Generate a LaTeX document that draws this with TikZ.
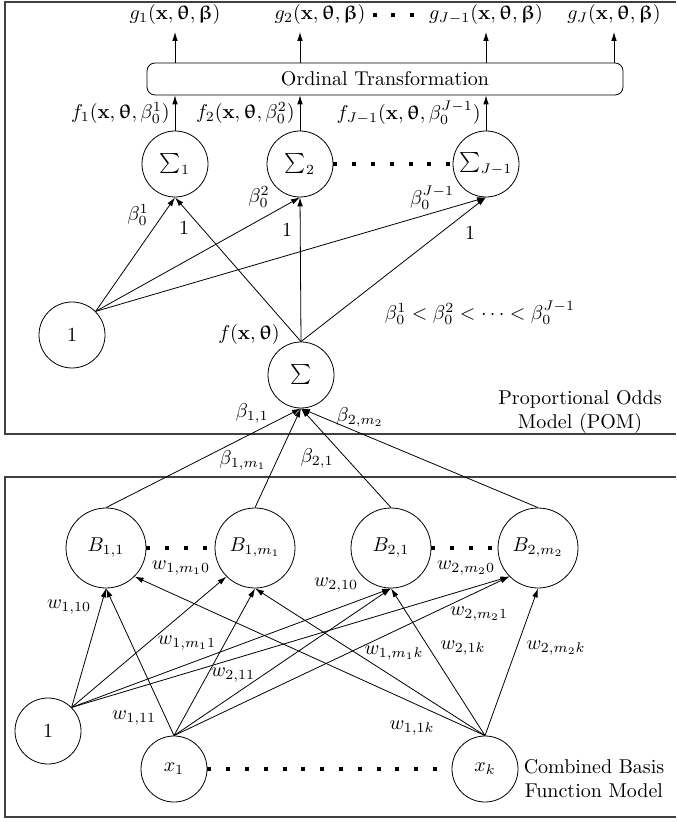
\documentclass[tikz,border=0pt]{standalone}
\usepackage{amsmath,amssymb,bm}
\usepackage{upgreek}
\usepackage{tikz}
\usetikzlibrary{arrows.meta,positioning,calc}

\tikzset{
	neuron/.style={draw, circle, minimum size=33pt, inner sep=1pt},
	basis/.style={draw, circle, minimum size=40pt, inner sep=1pt},
	conn/.style={-{Latex[length=4.5pt,width=2.8pt]}},
	bigdots/.style={line width=2pt, dash pattern=on 2pt off 7.4pt},
	frame/.style={black!75, line width=0.7pt},
	flabel/.style={left, inner ysep=0pt, inner xsep=2.5pt}
}
\newcommand{\xvec}{\mathbf{x}}
\newcommand{\thetavec}{\bm{\uptheta}}
\newcommand{\betavec}{\bm{\upbeta}}

\begin{document}
\begin{tikzpicture}[x=0.5pt, y=-0.5pt]
	\useasboundingbox (0,0) rectangle (676,822);
	
	% Frames of the two models
	\draw[frame] (676,2) -- (5,2) -- (5,434) -- (676,434);
	\draw[frame] (676,477) -- (5,477) -- (5,817) -- (676,817);
	
	% Ordinal transformation and its outputs
	\node[draw, rounded corners=4pt, minimum width=238pt, minimum height=16pt] (ot) at (385,79) {Ordinal Transformation};
	\coordinate (go1) at (175,32);
	\coordinate (go2) at (300,32);
	\coordinate (go3) at (486,32);
	\coordinate (go4) at (614,32);
	\foreach \g in {go1,go2,go3,go4}
		\draw[conn] (\g |- ot.north) -- (\g);
	\node[above] (g1) at (go1) {$g_1(\xvec,\thetavec,\betavec)$};
	\node[above] (g2) at (320,32) {$g_2(\xvec,\thetavec,\betavec)$};
	\node[above, inner xsep=1pt] (g3) at (go3) {$g_{J-1}(\xvec,\thetavec,\betavec)$};
	\node[above] (g4) at (go4) {$g_J(\xvec,\thetavec,\betavec)$};
	\draw[bigdots] (g2.east) -- (g3.west);
	
	% Threshold sums
	\node[neuron] (s1) at (175,164) {$\sum_1$};
	\node[neuron] (s2) at (300,164) {$\sum_2$};
	\node[neuron] (sJ) at (486,164) {$\sum_{J-1}$};
	\draw[bigdots] (s2.east) -- (sJ.west);
	\draw[conn] (s1.north) -- node[flabel] {$f_1(\xvec,\thetavec,\beta_0^1)$} (s1.north |- ot.south);
	\draw[conn] (s2.north) -- node[flabel] {$f_2(\xvec,\thetavec,\beta_0^2)$} (s2.north |- ot.south);
	\draw[conn] (sJ.north) -- node[flabel] {$f_{J-1}(\xvec,\thetavec,\beta_0^{J-1})$} (sJ.north |- ot.south);
	
	% Bias and latent sum
	\node[neuron] (one) at (72,335) {$1$};
	\node[neuron] (sum) at (301,375) {$\sum$};
	\foreach \s in {s1,s2,sJ} {
		\draw[conn] (one.north east) -- (\s.south);
		\draw[conn] (sum.north) -- (\s.south);
	}
	\node (lb1) at (138,215) {$\beta_0^1$};
	\node (lo1) at (184,228) {$1$};
	\node (lb2) at (259,197) {$\beta_0^2$};
	\node (lo2) at (287,230) {$1$};
	\node (lbJ) at (432,198) {$\beta_0^{J-1}$};
	\node (loJ) at (470,233) {$1$};
	\node (lfx) at (249,335) {$f(\xvec,\thetavec)$};
	\node (lord) at (480,313) {$\beta_0^1<\beta_0^2<\cdots<\beta_0^{J-1}$};
	\node[align=center] (pom) at (580,412) {Proportional Odds\\Model (POM)};
	
	% Basis functions
	\node[basis] (b11) at (106,548) {$B_{1,1}$};
	\node[basis] (b1m) at (255,548) {$B_{1,m_1}$};
	\node[basis] (b21) at (391,548) {$B_{2,1}$};
	\node[basis] (b2m) at (538,548) {$B_{2,m_2}$};
	\draw[bigdots] (b11.east) -- (b1m.west);
	\draw[bigdots] (b21.east) -- (b2m.west);
	\foreach \b in {b11,b1m,b21,b2m}
		\draw[conn] (\b.north) -- (sum.south);
	\node (lb11) at (252,413) {$\beta_{1,1}$};
	\node (lb2m) at (360,417) {$\beta_{2,m_2}$};
	\node (lb1m) at (243,460) {$\beta_{1,m_1}$};
	\node (lb21) at (317,458) {$\beta_{2,1}$};
	
	% Inputs
	\node[neuron] (one2) at (48,731) {$1$};
	\node[neuron] (x1) at (174,769) {$x_1$};
	\node[neuron] (xk) at (485,769) {$x_k$};
	\draw[bigdots] (x1.east) -- (xk.west);
	\foreach \b/\a in {b11/south, b1m/south west, b21/south, b2m/south west}
		\draw[conn] (one2.north east) -- (\b.\a);
	\foreach \b/\a in {b11/south, b1m/south, b21/south, b2m/south west}
		\draw[conn] (x1.north) -- (\b.\a);
	\foreach \b/\a in {b11/south east, b1m/south, b21/south, b2m/south}
		\draw[conn] (xk.north) -- (\b.\a);
	\node (w110) at (69,607) {$w_{1,10}$};
	\node (w1m0) at (181,568) {$w_{1,m_10}$};
	\node (w210) at (336,585) {$w_{2,10}$};
	\node (w2m0) at (466,568) {$w_{2,m_20}$};
	\node (w2m1) at (479,614) {$w_{2,m_21}$};
	\node (w1m1) at (187,643) {$w_{1,m_11}$};
	\node (w21k) at (463,648) {$w_{2,1k}$};
	\node (w2mk) at (556,648) {$w_{2,m_2k}$};
	\node (w1mk) at (394,653) {$w_{1,m_1k}$};
	\node (w211) at (233,675) {$w_{2,11}$};
	\node (w111) at (134,718) {$w_{1,11}$};
	\node (w11k) at (412,728) {$w_{1,1k}$};
	\node[align=center] (cbf) at (594,779) {Combined Basis\\Function Model};
\end{tikzpicture}
\end{document}
